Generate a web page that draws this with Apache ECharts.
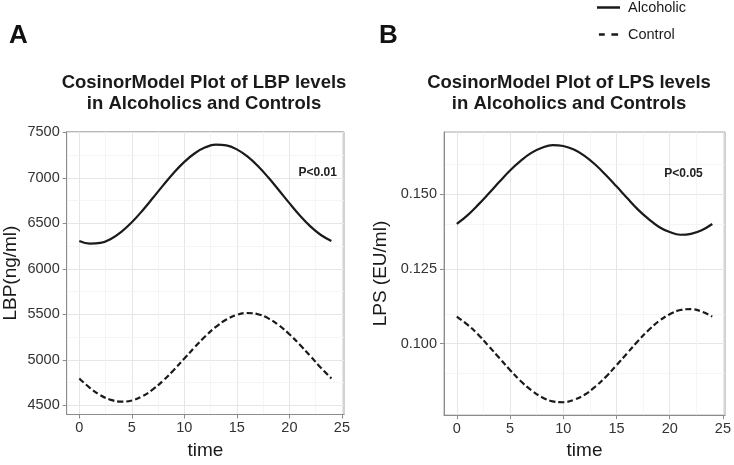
<!DOCTYPE html>
<html>
<head>
<meta charset="utf-8">
<script src="https://cdn.jsdelivr.net/npm/echarts@6/dist/echarts.min.js"></script>
<style>html,body{margin:0;padding:0;background:#fff;}#c{width:734px;height:465px;}</style>
</head>
<body>
<div id="c"></div>
<script>
// ---- data ----
const time = [0,1,2,3,4,5,6,7,8,9,10,11,12,13,14,15,16,17,18,19,20,21,22,23,24];
const lbpAlcoholic = [6306,6277,6284,6328,6406,6511,6638,6777,6919,7055,7174,7269,7334,7363,7356,7312,7234,7129,7002,6863,6721,6585,6466,6371,6306];
const lbpControl = [4795,4692,4612,4560,4540,4553,4599,4674,4773,4889,5014,5141,5259,5362,5442,5494,5514,5501,5455,5380,5281,5165,5040,4913,4795];
const lpsAlcoholic = [0.1401,0.1430,0.1465,0.1503,0.1542,0.1580,0.1612,0.1639,0.1656,0.1665,0.1662,0.1650,0.1629,0.1600,0.1565,0.1527,0.1488,0.1450,0.1418,0.1391,0.1374,0.1365,0.1368,0.1380,0.1401];
const lpsControl = [0.1091,0.1064,0.1031,0.0992,0.0952,0.0912,0.0875,0.0844,0.0821,0.0807,0.0804,0.0812,0.0829,0.0856,0.0889,0.0928,0.0968,0.1008,0.1045,0.1076,0.1099,0.1113,0.1116,0.1108,0.1091];
const xTicks = [0,5,10,15,20,25];
const xMinor = [2.5,7.5,12.5,17.5,22.5];
const lbpTicks = [4500,5000,5500,6000,6500,7000,7500];
const lbpMinor = [4750,5250,5750,6250,6750,7250];
const lpsTicks = [0.100,0.125,0.150];
const lpsMinor = [0.0875,0.1125,0.1375,0.1625];
const seriesNames = ['Alcoholic','Control'];
const panelLetters = ['A','B'];
const titles = ['CosinorModel Plot of LBP levels\nin Alcoholics and Controls','CosinorModel Plot of LPS levels\nin Alcoholics and Controls'];
const yNames = ['LBP(ng/ml)','LPS (EU/ml)'];
const pLabels = ['P<0.01','P<0.05'];
const pPos = [[22.7,7057],[21.3,0.1569]];

// ---- helpers ----
const zip = (xs, ys) => xs.map((x,i)=>[x, ys[i]]);
const LINE = '#1a1a1a';
const TXT = '#333333';
const FONT = '"Liberation Sans", Arial, sans-serif';

function xAxis(gi, gap){
  return {
    type:'value', gridIndex:gi, min:-1.2, max:25.2,
    name:'time', nameLocation:'middle', nameGap:gap,
    nameTextStyle:{fontSize:19, color:'#1a1a1a', fontFamily:FONT},
    axisLine:{show:true, onZero:false, lineStyle:{color:'#8c8c8c', width:1}},
    axisTick:{show:true, length:4, lineStyle:{color:'#8c8c8c'}, customValues:xTicks},
    axisLabel:{customValues:xTicks, fontSize:14.5, color:TXT, margin:6, fontFamily:FONT},
    splitLine:{show:true, lineStyle:{color:'#e6e6e6', width:1}}
  };
}
function yAxis(gi, mn, mx, ticks, gap, fmt){
  return {
    type:'value', gridIndex:gi, min:mn, max:mx,
    name:yNames[gi], nameLocation:'middle', nameGap:gap,
    nameTextStyle:{fontSize:19, color:'#1a1a1a', fontFamily:FONT},
    axisLine:{show:true, onZero:false, lineStyle:{color:'#8c8c8c', width:1}},
    axisTick:{show:true, length:4, lineStyle:{color:'#8c8c8c'}, customValues:ticks},
    axisLabel:{customValues:ticks, fontSize:14.5, color:TXT, margin:7, fontFamily:FONT, formatter:fmt},
    splitLine:{show:true, lineStyle:{color:'#e6e6e6', width:1}}
  };
}
function minorGrid(gi, xm, ym, p, label){
  const d = [];
  xm.forEach(v=>d.push({xAxis:v}));
  ym.forEach(v=>d.push({yAxis:v}));
  return {
    type:'line', xAxisIndex:gi, yAxisIndex:gi, data:[], silent:true, z:0,
    markLine:{silent:true, z:0, symbol:['none','none'], label:{show:false},
      lineStyle:{color:'#f2f2f2', width:0.8, type:'solid'}, data:d, animation:false},
    markPoint:{symbol:'circle', symbolSize:0, silent:true, animation:false,
      label:{show:true, position:'inside', formatter:label, fontSize:12, fontWeight:'bold', color:'#222', fontFamily:FONT},
      data:[{coord:p}]}
  };
}
function curve(gi, name, data, dashed){
  return {
    type:'line', name:name, xAxisIndex:gi, yAxisIndex:gi, data:data,
    showSymbol:false, symbol:'none', smooth:0.4, z:6,
    lineStyle:{color:LINE, width:2.2, type: dashed ? [6,3] : 'solid'},
    itemStyle:{color:LINE}
  };
}

const chart = echarts.init(document.getElementById('c'), null, {renderer:'canvas'});
chart.setOption({
  animation:false,
  backgroundColor:'#ffffff',
  title:[
    {text:panelLetters[0], left:9, top:23, padding:0, textStyle:{fontSize:26, fontWeight:'bold', color:'#111', fontFamily:FONT}},
    {text:panelLetters[1], left:379, top:23, padding:0, textStyle:{fontSize:26, fontWeight:'bold', color:'#111', fontFamily:FONT}},
    {text:titles[0], left:204, top:72, padding:0, textAlign:'center', textStyle:{fontSize:18.5, fontWeight:'bold', color:'#1a1a1a', lineHeight:21.5, fontFamily:FONT}},
    {text:titles[1], left:569, top:72, padding:0, textAlign:'center', textStyle:{fontSize:18.5, fontWeight:'bold', color:'#1a1a1a', lineHeight:21.5, fontFamily:FONT}}
  ],
  legend:{
    data:[
      {name:seriesNames[0], icon:'rect'},
      {name:seriesNames[1], icon:'path://M0,0h7v3h-7z M15,0h8v3h-8z'}
    ],
    orient:'vertical', left:597, top:0, padding:0, itemWidth:23, itemHeight:2.5, itemGap:12,
    textStyle:{fontSize:14.5, color:'#1a1a1a', fontFamily:FONT, padding:[0,0,0,3]}
  },
  grid:[
    {left:66.7, top:131.7, width:277.3, height:285.3, show:true, borderColor:'#a6a6a6', borderWidth:1, containLabel:false},
    {left:444, top:132, width:283.3, height:291.3, show:true, borderColor:'#a6a6a6', borderWidth:1, containLabel:false}
  ],
  xAxis:[xAxis(0, 26.5), xAxis(1, 20.5)],
  yAxis:[
    yAxis(0, 4399, 7506, lbpTicks, 46, v=>String(v)),
    yAxis(1, 0.0761, 0.1709, lpsTicks, 53.5, v=>v.toFixed(3))
  ],
  series:[
    minorGrid(0, xMinor, lbpMinor, pPos[0], pLabels[0]),
    minorGrid(1, xMinor, lpsMinor, pPos[1], pLabels[1]),
    curve(0, seriesNames[0], zip(time, lbpAlcoholic), false),
    curve(0, seriesNames[1], zip(time, lbpControl), true),
    curve(1, seriesNames[0], zip(time, lpsAlcoholic), false),
    curve(1, seriesNames[1], zip(time, lpsControl), true)
  ]
});
</script>
</body>
</html>
